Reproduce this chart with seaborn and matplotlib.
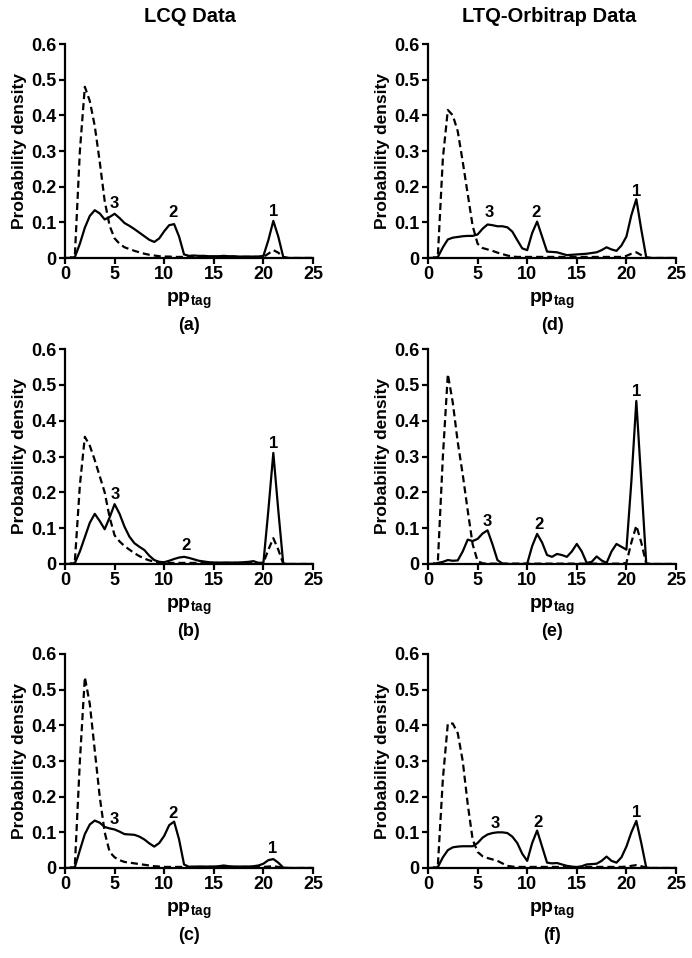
"""
Probability density of pp_tag for LCQ and LTQ-Orbitrap data
"""

import matplotlib
matplotlib.use("Agg")
import numpy as np
import pandas as pd
import seaborn as sns
import matplotlib.pyplot as plt

# x positions of the density curves (pp_tag)
X = [0, 0.5, 1, 1.5, 2, 2.5, 3, 3.5, 4, 4.5,
     5, 5.5, 6, 6.5, 7, 7.5, 8, 8.5, 9, 9.5,
     10, 10.5, 11, 11.5, 12, 12.5, 13, 13.5, 14, 14.5,
     15, 15.5, 16, 16.5, 17, 17.5, 18, 18.5, 19, 19.5,
     20, 20.5, 21, 21.5, 22, 22.5, 23, 24, 25]

# (a) LCQ
A_SOLID = [0, 0, 0.003, 0.04, 0.085, 0.118, 0.134, 0.125, 0.108, 0.115,
           0.124, 0.112, 0.098, 0.09, 0.081, 0.071, 0.061, 0.051, 0.045, 0.055,
           0.075, 0.092, 0.095, 0.06, 0.01, 0.006, 0.007, 0.006, 0.006, 0.005,
           0.005, 0.005, 0.006, 0.005, 0.005, 0.004, 0.004, 0.004, 0.004, 0.004,
           0.006, 0.05, 0.104, 0.06, 0.003, 0, 0, 0, 0]
A_DASH = [0, 0, 0.01, 0.30, 0.48, 0.44, 0.37, 0.27, 0.16, 0.09,
          0.055, 0.04, 0.03, 0.025, 0.02, 0.016, 0.012, 0.009, 0.007, 0.005,
          0.004, 0.004, 0.003, 0.003, 0.003, 0.003, 0.003, 0.003, 0.003, 0.003,
          0.003, 0.003, 0.003, 0.003, 0.003, 0.003, 0.003, 0.003, 0.003, 0.003,
          0.003, 0.012, 0.022, 0.015, 0.002, 0, 0, 0, 0]

# (b) LCQ
B_SOLID = [0, 0, 0.003, 0.035, 0.075, 0.115, 0.14, 0.12, 0.097, 0.13,
           0.167, 0.14, 0.104, 0.076, 0.058, 0.048, 0.039, 0.023, 0.011, 0.006,
           0.005, 0.009, 0.014, 0.018, 0.02, 0.017, 0.013, 0.009, 0.007, 0.005,
           0.004, 0.004, 0.004, 0.004, 0.004, 0.004, 0.005, 0.006, 0.008, 0.003,
           0.003, 0.15, 0.31, 0.15, 0.001, 0, 0, 0, 0]
B_DASH = [0, 0, 0.01, 0.22, 0.355, 0.33, 0.29, 0.245, 0.2, 0.13,
          0.08, 0.063, 0.05, 0.04, 0.03, 0.022, 0.015, 0.01, 0.007, 0.005,
          0.004, 0.003, 0.003, 0.003, 0.003, 0.003, 0.003, 0.003, 0.003, 0.003,
          0.003, 0.003, 0.003, 0.003, 0.003, 0.003, 0.003, 0.003, 0.003, 0.003,
          0.003, 0.04, 0.072, 0.04, 0.001, 0, 0, 0, 0]

# (c) LCQ
C_SOLID = [0, 0, 0.003, 0.05, 0.095, 0.122, 0.133, 0.127, 0.115, 0.111,
           0.108, 0.102, 0.095, 0.094, 0.093, 0.088, 0.08, 0.069, 0.06, 0.07,
           0.09, 0.12, 0.13, 0.08, 0.01, 0.003, 0.004, 0.004, 0.004, 0.004,
           0.004, 0.005, 0.007, 0.005, 0.004, 0.004, 0.004, 0.004, 0.005, 0.007,
           0.012, 0.022, 0.025, 0.015, 0.001, 0, 0, 0, 0]
C_DASH = [0, 0, 0.01, 0.30, 0.535, 0.46, 0.33, 0.2, 0.1, 0.045,
          0.03, 0.022, 0.017, 0.015, 0.013, 0.011, 0.009, 0.007, 0.005, 0.004,
          0.003, 0.003, 0.003, 0.003, 0.003, 0.003, 0.003, 0.003, 0.003, 0.003,
          0.003, 0.003, 0.003, 0.003, 0.003, 0.003, 0.003, 0.003, 0.003, 0.003,
          0.003, 0.004, 0.005, 0.003, 0.001, 0, 0, 0, 0]

# (d) LTQ-Orbitrap
D_SOLID = [0, 0, 0.003, 0.03, 0.052, 0.057, 0.059, 0.061, 0.062, 0.062,
           0.066, 0.082, 0.094, 0.092, 0.089, 0.089, 0.086, 0.074, 0.05, 0.027,
           0.022, 0.07, 0.102, 0.06, 0.018, 0.017, 0.016, 0.012, 0.008, 0.009,
           0.01, 0.011, 0.012, 0.014, 0.016, 0.022, 0.03, 0.024, 0.02, 0.035,
           0.06, 0.12, 0.165, 0.08, 0.002, 0, 0, 0, 0]
D_DASH = [0, 0, 0.01, 0.28, 0.415, 0.40, 0.355, 0.27, 0.18, 0.09,
          0.04, 0.028, 0.024, 0.02, 0.015, 0.011, 0.007, 0.004, 0.003, 0.003,
          0.003, 0.003, 0.003, 0.003, 0.003, 0.003, 0.003, 0.003, 0.003, 0.003,
          0.003, 0.003, 0.003, 0.003, 0.003, 0.003, 0.003, 0.003, 0.003, 0.003,
          0.006, 0.012, 0.016, 0.008, 0.001, 0, 0, 0, 0]

# (e) LTQ-Orbitrap
E_SOLID = [0, 0, 0.003, 0.006, 0.011, 0.009, 0.01, 0.035, 0.068, 0.064,
           0.07, 0.085, 0.094, 0.055, 0.011, 0.001, 0, 0, 0, 0,
           0.001, 0.05, 0.084, 0.06, 0.025, 0.02, 0.028, 0.025, 0.02, 0.035,
           0.056, 0.035, 0.003, 0.006, 0.021, 0.01, 0.003, 0.035, 0.056, 0.048,
           0.04, 0.23, 0.455, 0.23, 0.001, 0, 0, 0, 0]
E_DASH = [0, 0, 0.01, 0.30, 0.53, 0.45, 0.34, 0.25, 0.15, 0.055,
          0.008, 0.002, 0.001, 0.001, 0.001, 0.001, 0.001, 0.001, 0.001, 0.001,
          0.001, 0.001, 0.001, 0.001, 0.001, 0.001, 0.001, 0.001, 0.001, 0.001,
          0.001, 0.001, 0.001, 0.001, 0.001, 0.001, 0.001, 0.001, 0.001, 0.001,
          0.003, 0.06, 0.107, 0.06, 0.001, 0, 0, 0, 0]

# (f) LTQ-Orbitrap
F_SOLID = [0, 0, 0.003, 0.03, 0.05, 0.058, 0.06, 0.061, 0.061, 0.061,
           0.07, 0.085, 0.094, 0.098, 0.1, 0.1, 0.098, 0.088, 0.07, 0.04,
           0.02, 0.07, 0.105, 0.06, 0.015, 0.013, 0.014, 0.01, 0.006, 0.004,
           0.002, 0.005, 0.01, 0.011, 0.012, 0.02, 0.032, 0.02, 0.015, 0.03,
           0.06, 0.1, 0.132, 0.07, 0.001, 0, 0, 0, 0]
F_DASH = [0, 0, 0.01, 0.25, 0.405, 0.405, 0.378, 0.3, 0.18, 0.08,
          0.045, 0.033, 0.028, 0.024, 0.02, 0.013, 0.006, 0.004, 0.003, 0.003,
          0.003, 0.003, 0.003, 0.003, 0.003, 0.003, 0.003, 0.003, 0.003, 0.003,
          0.003, 0.003, 0.003, 0.003, 0.003, 0.003, 0.003, 0.003, 0.003, 0.003,
          0.004, 0.006, 0.008, 0.005, 0.001, 0, 0, 0, 0]

# peak numbers: (label, x, y) per panel
A_PEAKS = [("3", 5.0, 0.153), ("2", 10.9, 0.127), ("1", 21.05, 0.13)]
B_PEAKS = [("3", 5.1, 0.194), ("2", 12.2, 0.053), ("1", 21.0, 0.337)]
C_PEAKS = [("3", 5.0, 0.136), ("2", 10.9, 0.153), ("1", 20.9, 0.055)]
D_PEAKS = [("3", 6.2, 0.127), ("2", 10.9, 0.127), ("1", 21.0, 0.186)]
E_PEAKS = [("3", 5.95, 0.118), ("2", 11.15, 0.109), ("1", 21.0, 0.481)]
F_PEAKS = [("3", 6.8, 0.125), ("2", 11.1, 0.127), ("1", 21.0, 0.156)]

COLUMN_TITLES = ["LCQ Data", "LTQ-Orbitrap Data"]
X_TICKS = [0, 5, 10, 15, 20, 25]
Y_TICKS = [0, 0.1, 0.2, 0.3, 0.4, 0.5, 0.6]
Y_TICK_LABELS = ["0", "0.1", "0.2", "0.3", "0.4", "0.5", "0.6"]

W, H = 692, 958


def draw_panel(fig, rect, solid, dash, peaks, letter):
    """Draw one density panel"""
    ax = fig.add_axes(rect)
    df = pd.DataFrame({"x": X, "solid": solid, "dash": dash})

    sns.lineplot(data=df, x="x", y="solid", ax=ax, color="black", linewidth=1.6)
    sns.lineplot(data=df, x="x", y="dash", ax=ax, color="black", linewidth=1.6,
                 linestyle=(0, (3.2, 1.8)))

    for label, px, py in peaks:
        ax.text(px, py, label, ha="center", va="center", fontsize=12,
                fontweight="bold", color="black")

    ax.set_xlim(0, 25)
    ax.set_ylim(0, 0.6)
    ax.set_xticks(X_TICKS)
    ax.set_yticks(Y_TICKS)
    ax.set_yticklabels(Y_TICK_LABELS)
    ax.tick_params(direction="out", length=4, width=1.6, labelsize=13, pad=2,
                   colors="black")
    for lab in ax.get_xticklabels() + ax.get_yticklabels():
        lab.set_fontweight("bold")
    for side in ["left", "bottom"]:
        ax.spines[side].set_linewidth(1.6)
        ax.spines[side].set_color("black")
    sns.despine(ax=ax)

    ax.set_xlabel(r"$\mathbf{pp}_{\mathbf{tag}}$", fontsize=14, labelpad=5,
                  color="black")
    ax.set_ylabel("Probability density", fontsize=12.5, fontweight="bold",
                  labelpad=3, color="black")

    # panel letter below the x label
    cx = rect[0] + rect[2] / 2
    fig.text(cx, rect[1] - 67 / H, letter, ha="center", va="center",
             fontsize=13, fontweight="bold", color="black")
    return ax


def main():
    sns.set_style("ticks")
    plt.rcParams["font.family"] = ["Liberation Sans", "DejaVu Sans"]
    plt.rcParams["mathtext.fontset"] = "custom"
    plt.rcParams["mathtext.bf"] = "Liberation Sans:bold"
    plt.rcParams["mathtext.rm"] = "Liberation Sans:bold"
    plt.rcParams["text.color"] = "black"

    fig = plt.figure(figsize=(W / 100, H / 100), dpi=100)

    # axes boxes in pixels: left, top, right, bottom
    left_cols = [65, 428]
    rows = [(44, 258), (349, 564), (654, 868)]
    width = 248

    panels = [
        (0, 0, A_SOLID, A_DASH, A_PEAKS, "(a)"),
        (0, 1, B_SOLID, B_DASH, B_PEAKS, "(b)"),
        (0, 2, C_SOLID, C_DASH, C_PEAKS, "(c)"),
        (1, 0, D_SOLID, D_DASH, D_PEAKS, "(d)"),
        (1, 1, E_SOLID, E_DASH, E_PEAKS, "(e)"),
        (1, 2, F_SOLID, F_DASH, F_PEAKS, "(f)"),
    ]
    for col, row, solid, dash, peaks, letter in panels:
        top, bottom = rows[row]
        rect = [left_cols[col] / W, 1 - bottom / H, width / W, (bottom - top) / H]
        draw_panel(fig, rect, solid, dash, peaks, letter)

    # column titles
    fig.text(190 / W, 1 - 16 / H, COLUMN_TITLES[0], ha="center", va="center",
             fontsize=14.5, fontweight="bold")
    fig.text(549 / W, 1 - 16 / H, COLUMN_TITLES[1], ha="center", va="center",
             fontsize=14.5, fontweight="bold")

    fig.savefig("out.png", dpi=100)


if __name__ == "__main__":
    main()
